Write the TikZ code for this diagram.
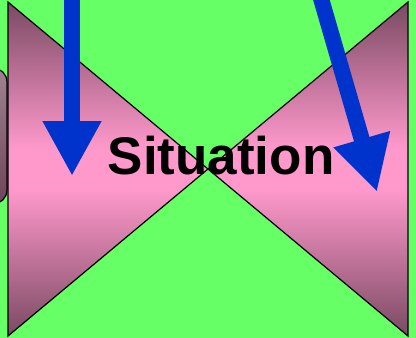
\documentclass[tikz,border=0pt]{standalone}
\usepackage{fontspec}
\setmainfont{Liberation Sans}
\usepackage{xcolor}
\definecolor{lawn}{HTML}{66FF66}
\definecolor{mauve}{HTML}{7A4A62}
\definecolor{blush}{HTML}{FF99CC}
\definecolor{plum}{HTML}{6E4458}
\definecolor{dusk}{HTML}{A08292}
\definecolor{royal}{HTML}{0033CC}
\usetikzlibrary{arrows.meta}
\pgfdeclareverticalshading{bowfade}{100bp}{color(0bp)=(mauve); color(25bp)=(mauve);
  color(47bp)=(blush); color(53bp)=(blush); color(75bp)=(mauve); color(100bp)=(mauve)}

\begin{document}
\begin{tikzpicture}[
  x=1pt,y=-1pt,
  wedge/.style={draw=black,line width=1.2pt,line join=miter,shading=bowfade},
  push/.style={draw=royal,line width=16pt,
    -{Triangle[length=55pt,width=55pt]}},
  caption/.style={font=\fontsize{53}{60}\selectfont\bfseries,inner sep=0pt}
]
\fill[lawn] (0,0) rectangle (416,338);
\useasboundingbox (0,0) rectangle (416,338);

% Side piece, mostly off the page
\draw[black,line width=1.2pt,rounded corners=14pt,top color=dusk,bottom color=plum]
  (-25,68) rectangle (7,204);

% Bow tie
\coordinate (mid) at (208,169);
\coordinate (ltop) at (8,2);
\coordinate (lbot) at (8,336);
\coordinate (rtop) at (408,2);
\coordinate (rbot) at (408,336);
\draw[wedge] (ltop) -- (mid) -- (lbot) -- cycle;
\draw[wedge] (rtop) -- (mid) -- (rbot) -- cycle;

\node[caption,anchor=base] (sit) at (221,174) {Situation};

% Arrows
\coordinate (a1s) at (72,-5);
\coordinate (a1e) at (72,176);
\coordinate (a2s) at (320,-5);
\coordinate (a2e) at (377,192);
\draw[push] (a1s) -- (a1e);
\draw[push] (a2s) -- (a2e);

\end{tikzpicture}
\end{document}
